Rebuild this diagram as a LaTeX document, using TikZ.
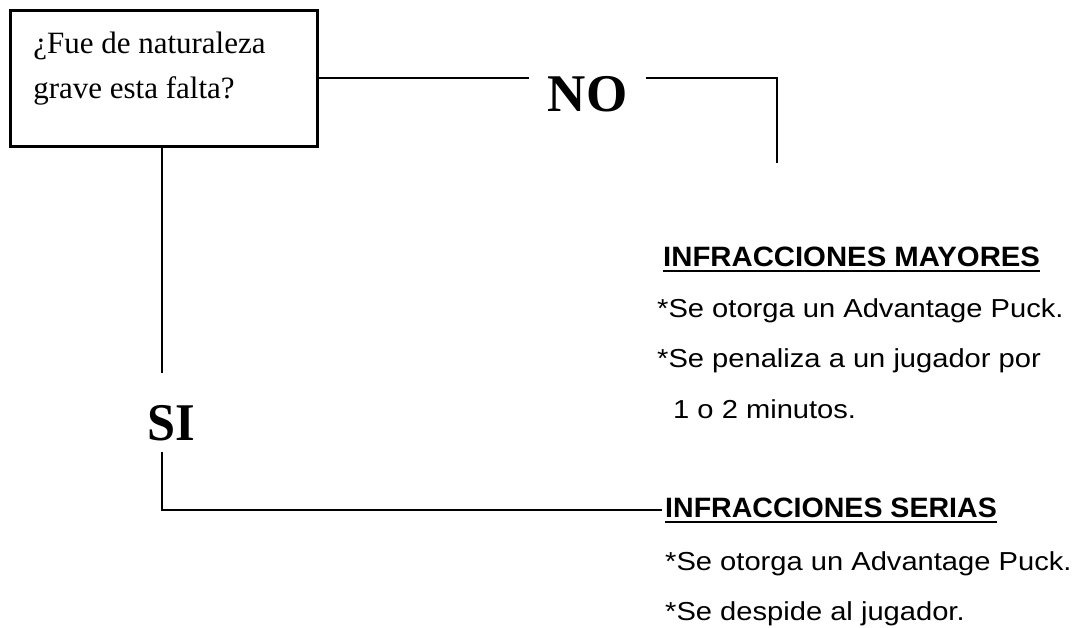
\documentclass[tikz,border=0pt]{standalone}
\usepackage{fontspec}
\setmainfont{Liberation Serif}
\setsansfont{Liberation Sans}
\newcommand{\wide}[2]{\scalebox{#1}[1]{#2}}
\begin{document}
\begin{tikzpicture}[x=1pt,y=-1pt,
  conn/.style={line width=2pt},
  qbox/.style={draw,line width=2.5pt,inner sep=0pt,anchor=north west},
  answer/.style={font=\rmfamily\bfseries\fontsize{53}{53}\selectfont,inner ysep=0pt,anchor=base},
  head/.style={font=\sffamily\bfseries\fontsize{28}{28}\selectfont,inner sep=0pt,text depth=5pt,anchor=base west},
  body/.style={font=\sffamily\fontsize{26}{26}\selectfont,inner sep=0pt,anchor=base west},
  uline/.style={line width=2.5pt}]
\useasboundingbox (0,0) rectangle (1074,627);

% question box
\node[qbox] (q) at (9,9) {\parbox[c][136pt][t]{307pt}{\fontsize{31}{45}\selectfont\leftskip=23pt\rule{0pt}{43pt}¿Fue de naturaleza\\grave esta falta?}};

% answers
\node[answer,inner xsep=19pt] (no) at (587.5,111) {NO};
\node[answer,inner xsep=0pt] (si) at (171.5,440) {\wide{0.95}{SI}};

% headings
\node[head] (may) at (663,266) {\wide{1.047}{INFRACCIONES MAYORES}};
\node[head] (ser) at (665,517) {\wide{1.02}{INFRACCIONES SERIAS}};
\draw[uline] (may.south west) -- (may.south east);
\draw[uline] (ser.south west) -- (ser.south east);

% body texts
\node[body] (m1) at (657,317) {\wide{1.12}{*Se otorga un Advantage Puck.}};
\node[body] (m2) at (657,367) {\wide{1.12}{*Se penaliza a un jugador por}};
\node[body] (m3) at (673,418) {\wide{1.12}{1 o 2 minutos.}};
\node[body] (r1) at (665,570) {\wide{1.12}{*Se otorga un Advantage Puck.}};
\node[body] (r2) at (665,620) {\wide{1.12}{*Se despide al jugador.}};

% connector coordinates
\coordinate (noEnd) at (777,163);
\coordinate (siTop) at (162,373);
\coordinate (siBot) at (162,452);

% connectors
\draw[conn] (q.east) -- (q.east -| no.west);
\draw[conn] (q.east -| no.east) -| (noEnd);
\draw[conn] (q.south -| siTop) -- (siTop);
\draw[conn] (siBot) |- ([xshift=-3pt]ser.west);
\end{tikzpicture}
\end{document}
